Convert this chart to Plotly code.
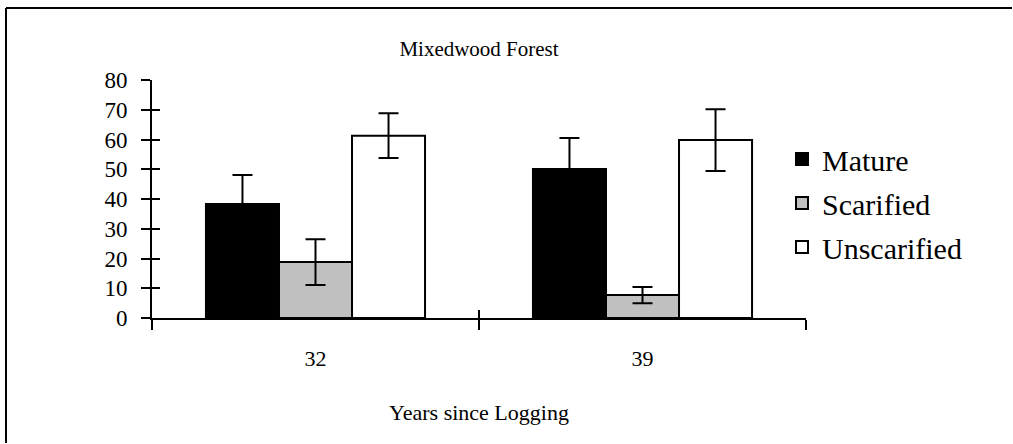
import plotly.graph_objects as go

# Years since logging (x categories)
years = ["32", "39"]

# Mean values and error half-widths per stand type
mature = [38.3, 50.1]
mature_err = [9.8, 10.4]
scarified = [18.8, 7.7]
scarified_err = [7.7, 2.7]
unscarified = [61.3, 59.8]
unscarified_err = [7.5, 10.4]

y_ticks = [0, 10, 20, 30, 40, 50, 60, 70, 80]

FONT = "Liberation Serif, Times New Roman, serif"
W, H = 1013, 444
L, R, T, B = 152, 207, 80, 126

def err(vals):
    return dict(type="data", array=vals, visible=True,
                color="black", thickness=2, width=10)

fig = go.Figure()
series = [
    ("Mature", mature, mature_err, "black"),
    ("Scarified", scarified, scarified_err, "#c0c0c0"),
    ("Unscarified", unscarified, unscarified_err, "white"),
]
for name, vals, e, col in series:
    fig.add_trace(go.Bar(
        x=years, y=vals, name=name, legendgroup=name,
        marker=dict(color=col, line=dict(color="black", width=2)),
        error_y=err(e),
    ))

# companion axes carrying the inward half of the crossing tick marks
fig.add_trace(go.Scatter(x=[], y=[], xaxis="x2", yaxis="y2",
                         showlegend=False, hoverinfo="skip"))

fig.update_layout(
    width=W, height=H,
    margin=dict(l=L, r=R, t=T, b=B, pad=0, autoexpand=False),
    paper_bgcolor="white", plot_bgcolor="white",
    font=dict(family=FONT, color="black"),
    barmode="group", bargap=0.33, bargroupgap=0,
    title=dict(text="Mixedwood Forest", font=dict(size=21, family=FONT),
               x=479 / W, xanchor="center", xref="container",
               y=1 - 49 / H, yanchor="middle", yref="container"),
    xaxis=dict(type="category", showgrid=False, zeroline=False,
               showline=True, linecolor="black", linewidth=2,
               ticks="outside", ticklen=10, tickwidth=2, tickcolor="black",
               tickson="boundaries",
               tickfont=dict(size=22, family=FONT),
               ticklabelstandoff=20,
               title=dict(text="Years since Logging",
                          font=dict(size=22, family=FONT), standoff=34)),
    yaxis=dict(range=[0, 80], tickvals=y_ticks, showgrid=False,
               zeroline=False, showline=True, linecolor="black", linewidth=2,
               ticks="outside", ticklen=9, tickwidth=2, tickcolor="black",
               tickfont=dict(size=23, family=FONT), ticklabelstandoff=9),
    xaxis2=dict(overlaying="x", range=[-0.5, 1.5],
                tickvals=[-0.5, 0.5, 1.5], showticklabels=False,
                ticks="inside", ticklen=8, tickwidth=2, tickcolor="black",
                showgrid=False, zeroline=False, showline=False),
    yaxis2=dict(overlaying="y", range=[0, 80], tickvals=y_ticks,
                showticklabels=False, ticks="inside", ticklen=8,
                tickwidth=2, tickcolor="black",
                showgrid=False, zeroline=False, showline=False),
    legend=dict(xref="container", yref="container",
                x=782 / W, y=1 - 133 / H, xanchor="left", yanchor="top",
                font=dict(size=30, family=FONT),
                traceorder="grouped", tracegroupgap=2,
                bgcolor="rgba(0,0,0,0)", itemwidth=30),
)

# outer chart frame: left and top edges, ending inside the page
px_w, px_h = W - L - R, H - T - B
fx0 = (6 - L) / px_w
fy1 = (H - B - 8) / px_h
fig.add_shape(type="line", xref="paper", yref="paper",
              x0=fx0, x1=fx0, y0=fy1, y1=-(B - 1) / px_h,
              line=dict(color="black", width=2), layer="below")
fig.add_shape(type="line", xref="paper", yref="paper",
              x0=fx0, x1=(W - 1 - L) / px_w, y0=fy1, y1=fy1,
              line=dict(color="black", width=2), layer="below")

fig.write_html("out.html", config={"displayModeBar": False})
